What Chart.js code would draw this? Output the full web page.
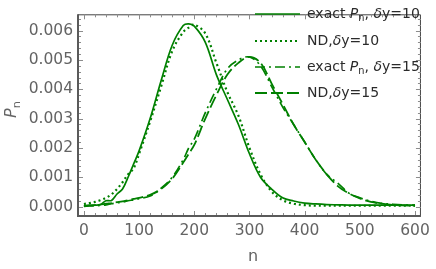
<!DOCTYPE html>
<html>
<head>
<meta charset="utf-8">
<script src="https://cdn.jsdelivr.net/npm/chart.js@4.4.1/dist/chart.umd.min.js"></script>
<style>
  html, body { margin: 0; padding: 0; background: #fff; }
  #grafica { display: block; }
</style>
</head>
<body>
<canvas id="grafica" width="436" height="269"></canvas>
<script>
// valores: n y P_n de cada curva
const nVals = [0, 10, 20, 30, 40, 50, 60, 70, 80, 90, 100, 120, 140, 160, 180, 190, 200, 220, 240, 260, 280,
    300, 320, 340, 360, 380, 400, 420, 440, 460, 480, 500, 520, 540, 560, 580, 600];

const exactoDy10 = [0.00003, 0.00004, 0.00005, 0.00007, 0.0002, 0.00021, 0.00043, 0.0006, 0.001, 0.00145, 0.0019, 0.003,
    0.0043, 0.0055, 0.00617, 0.00623, 0.00615, 0.0056, 0.0045, 0.00365, 0.0028, 0.0018, 0.001, 0.0006, 0.0003, 0.00019, 0.00012,
    0.00009, 0.00007, 0.00006, 0.00005, 0.00005, 0.00005, 0.00005, 0.00005, 0.00005, 0.00005];

const ndDy10 = [0.00009, 0.00012, 0.00016, 0.00022, 0.0003, 0.00042, 0.0006, 0.00083, 0.0011, 0.0013, 0.0018, 0.0029,
    0.0041, 0.0053, 0.00595, 0.0061, 0.0062, 0.0059, 0.0049, 0.0039, 0.0031, 0.002, 0.0011, 0.00052, 0.00022, 0.0001, 0.00005,
    0.00003, 0.00003, 0.00003, 0.00003, 0.00003, 0.00003, 0.00003, 0.00003, 0.00003, 0.00003];

const exactoDy15 = [0.00001, 0.00002, 0.00003, 0.00004, 0.00006, 0.0001, 0.00013, 0.00015, 0.0002, 0.00023, 0.00027, 0.00036,
    0.00063, 0.001, 0.0016, 0.002, 0.0023, 0.0032, 0.004, 0.0047, 0.005, 0.0051, 0.0048, 0.0041, 0.0034, 0.0028, 0.0022,
    0.0016, 0.0011, 0.0008, 0.00046, 0.0003, 0.00018, 0.00011, 0.00008, 0.00006, 0.00005];

const ndDy15 = [0.00003, 0.00004, 0.00005, 0.00007, 0.0001, 0.00012, 0.00015, 0.00018, 0.00022, 0.00026, 0.0003, 0.0004,
    0.0006, 0.00095, 0.0015, 0.0018, 0.0021, 0.003, 0.0038, 0.0045, 0.0049, 0.0051, 0.0049, 0.0042, 0.0035, 0.0028, 0.0022,
    0.0016, 0.0011, 0.0007, 0.00045, 0.00028, 0.00016, 0.0001, 0.00006, 0.00004, 0.00003];

const ticksX = [0, 100, 200, 300, 400, 500, 600];
const ticksY = [0, 0.001, 0.002, 0.003, 0.004, 0.005, 0.006];

// texto de la leyenda, por trozos: n = normal, i = cursiva, s = subindice
const leyendas = [
    [['exact ', 'n'], ['P', 'i'], ['n', 's'], [', ', 'n'], ['δ', 'i'], ['y=10', 'n']],
    [['ND,', 'n'], ['δ', 'i'], ['y=10', 'n']],
    [['exact ', 'n'], ['P', 'i'], ['n', 's'], [', ', 'n'], ['δ', 'i'], ['y=15', 'n']],
    [['ND,', 'n'], ['δ', 'i'], ['y=15', 'n']]
];

const verde = '#008000';
const gris = '#646464';
const fuente = '"DejaVu Sans", sans-serif';

const estilos = [
    { dash: [], ancho: 1.7 },
    { dash: [2, 3], ancho: 2.2 },
    { dash: [10, 4, 2, 4], ancho: 1.7 },
    { dash: [12, 4], ancho: 1.8 }
];

function puntos(valores) {
    return nVals.map((n, i) => ({ x: n, y: valores[i] }));
}

const series = [exactoDy10, ndDy10, exactoDy15, ndDy15];

function trozos(ctx, x, y, partes, tam) {
    partes.forEach(([txt, tipo]) => {
        if (tipo == 's') {
            ctx.font = (tam * 0.7) + 'px ' + fuente;
            ctx.fillText(txt, x, y + tam * 0.3);
        } else {
            ctx.font = (tipo == 'i' ? 'italic ' : '') + tam + 'px ' + fuente;
            ctx.fillText(txt, x, y);
        }
        x += ctx.measureText(txt).width;
    });
}

// marco, marcas hacia dentro, titulos de ejes y leyenda
const marcoPlugin = {
    id: 'marco',
    afterDraw(chart) {
        const { ctx, chartArea: a, scales: { x, y } } = chart;
        ctx.save();
        ctx.strokeStyle = '#444';
        ctx.lineWidth = 1;
        ctx.beginPath();
        ctx.moveTo(a.left, a.top + 0.5);
        ctx.lineTo(a.right - 0.5, a.top + 0.5);
        ctx.lineTo(a.right - 0.5, a.bottom);
        ctx.stroke();

        ctx.strokeStyle = '#8c8c8c';
        for (let v = 0; v <= 600; v += 20) {
            const px = Math.round(x.getPixelForValue(v)) + 0.5;
            const l = v % 100 == 0 ? 5 : 3;
            ctx.beginPath();
            ctx.moveTo(px, a.bottom); ctx.lineTo(px, a.bottom - l);
            ctx.moveTo(px, a.top); ctx.lineTo(px, a.top + l);
            ctx.stroke();
        }
        for (let k = 0; k <= 32; k++) {
            const py = Math.round(y.getPixelForValue(k * 0.0002)) + 0.5;
            const l = k % 5 == 0 ? 5 : 3;
            ctx.beginPath();
            ctx.moveTo(a.left, py); ctx.lineTo(a.left + l, py);
            ctx.moveTo(a.right, py); ctx.lineTo(a.right - l, py);
            ctx.stroke();
        }

        ctx.strokeStyle = '#5a5a5a';
        ctx.lineWidth = 2;
        ctx.beginPath();
        ctx.moveTo(a.left, a.top);
        ctx.lineTo(a.left, a.bottom);
        ctx.lineTo(a.right, a.bottom);
        ctx.stroke();

        // titulos
        ctx.fillStyle = gris;
        ctx.textBaseline = 'middle';
        ctx.textAlign = 'center';
        ctx.font = '16px ' + fuente;
        ctx.fillText('n', 253, 257);
        ctx.save();
        ctx.translate(12, 110);
        ctx.rotate(-Math.PI / 2);
        ctx.textAlign = 'left';
        trozos(ctx, -8, 0, [['P', 'i'], ['n', 's']], 16);
        ctx.restore();

        // leyenda
        const filas = [14, 41, 67, 93];
        ctx.textAlign = 'left';
        leyendas.forEach((partes, i) => {
            ctx.strokeStyle = verde;
            ctx.lineWidth = estilos[i].ancho;
            ctx.setLineDash(estilos[i].dash);
            ctx.beginPath();
            ctx.moveTo(255, filas[i]);
            ctx.lineTo(300, filas[i]);
            ctx.stroke();
            ctx.setLineDash([]);
            ctx.fillStyle = '#2b2b2b';
            trozos(ctx, 307, filas[i], partes, 14);
        });
        ctx.restore();
    }
};

const ctx = document.getElementById('grafica');
const myChart = new Chart(ctx, {
    type: 'line',
    data: {
        datasets: series.map((s, i) => ({
            data: puntos(s),
            borderColor: verde,
            borderWidth: estilos[i].ancho,
            borderDash: estilos[i].dash,
            pointRadius: 0,
            fill: false,
            tension: 0.35
        }))
    },
    options: {
        responsive: false,
        animation: false,
        layout: { padding: { top: 1, right: 10, left: 0, bottom: 0 } },
        plugins: { legend: { display: false }, tooltip: { enabled: false } },
        scales: {
            x: {
                type: 'linear',
                min: -10.7,
                max: 610.7,
                grid: { display: false, drawTicks: false },
                border: { display: false },
                afterBuildTicks: s => { s.ticks = ticksX.map(v => ({ value: v })); },
                afterFit: s => { s.height = 53; },
                ticks: {
                    color: gris,
                    padding: 6,
                    maxRotation: 0,
                    font: { family: fuente, size: 15.5 },
                    callback: v => String(v)
                }
            },
            y: {
                type: 'linear',
                min: -0.00032,
                max: 0.006554,
                grid: { display: false, drawTicks: false },
                border: { display: false },
                afterBuildTicks: s => { s.ticks = ticksY.map(v => ({ value: v })); },
                afterFit: s => { s.width = 78; },
                ticks: {
                    color: gris,
                    padding: 5,
                    font: { family: fuente, size: 15.5 },
                    callback: v => v.toFixed(3)
                }
            }
        }
    },
    plugins: [marcoPlugin]
});
</script>
</body>
</html>
